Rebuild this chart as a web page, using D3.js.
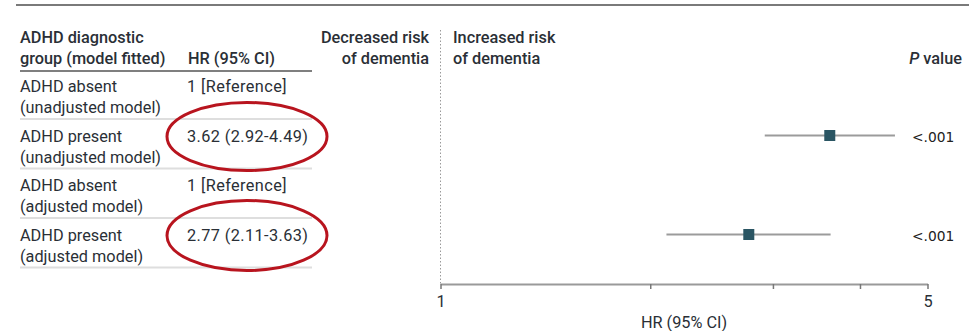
<!DOCTYPE html>
<html><head><meta charset="utf-8">
<script src="https://cdn.jsdelivr.net/npm/d3@7"></script>
<style>
body{margin:0;background:#fff;}
svg{display:block;font-family:Roboto, "Noto Sans", sans-serif;}
</style></head><body>
<svg id="c" width="969" height="331"></svg>
<script>
const groupLine1 = ["ADHD absent","ADHD present","ADHD absent","ADHD present"];
const groupLine2 = ["(unadjusted model)","(unadjusted model)","(adjusted model)","(adjusted model)"];
const hrLabels = ["1 [Reference]","3.62 (2.92-4.49)","1 [Reference]","2.77 (2.11-3.63)"];
const hr = [null,3.62,null,2.77];
const ciLow = [null,2.92,null,2.11];
const ciHigh = [null,4.49,null,3.63];
const pValues = ["","<.001","","<.001"];
const tickValues = [1,2,3,4,5];
const tickLabels = ["1","","","","5"];
const circled = [1,3];

const svg = d3.select("#c");
const txt = "#2a2f36";
const W = 969;
const fs = 16.3;

// top rule
svg.append("line").attr("x1",16).attr("x2",W).attr("y1",5).attr("y2",5)
  .attr("stroke","#7a7a7a").attr("stroke-width",2);

// headers
const hdr = svg.append("g").attr("fill",txt).attr("font-size",fs).attr("font-weight",500);
hdr.append("text").attr("x",20).attr("y",43).text("ADHD diagnostic");
hdr.append("text").attr("x",20).attr("y",64).text("group (model fitted)");
hdr.append("text").attr("x",188).attr("y",64).text("HR (95% CI)");
hdr.append("text").attr("x",429).attr("y",43).attr("text-anchor","end").text("Decreased risk");
hdr.append("text").attr("x",429).attr("y",64).attr("text-anchor","end").text("of dementia");
hdr.append("text").attr("x",453).attr("y",43).text("Increased risk");
hdr.append("text").attr("x",453).attr("y",64).text("of dementia");
const pv = hdr.append("text").attr("x",962).attr("y",64).attr("text-anchor","end");
pv.append("tspan").attr("font-style","italic").text("P");
pv.append("tspan").text(" value");

// header underline
svg.append("line").attr("x1",20).attr("x2",312).attr("y1",71).attr("y2",71)
  .attr("stroke","#555").attr("stroke-width",1.5);

// rows
const rowY = d3.scaleLinear().domain([0,1]).range([96,145.5]);
const x = d3.scaleLog().domain([1,5]).range([440.5,927.5]);

const rows = svg.append("g").selectAll("g").data(groupLine1).join("g")
  .attr("transform",(d,i)=>`translate(0,${rowY(i)})`);
rows.append("text").attr("x",20).attr("y",-4).attr("fill",txt).attr("font-size",fs).text(d=>d);
rows.append("text").attr("x",20).attr("y",17).attr("fill",txt).attr("font-size",fs).text((d,i)=>groupLine2[i]);
rows.append("text").attr("x",187).attr("y",-4).attr("fill",txt).attr("font-size",fs)
  .attr("letter-spacing",0.4).text((d,i)=>hrLabels[i]);
rows.append("line").attr("x1",20).attr("x2",312).attr("y1",23).attr("y2",23)
  .attr("stroke","#dedede").attr("stroke-width",2);
rows.append("text").attr("x",912).attr("y",-4).attr("fill","#222").attr("font-size",13.8)
  .attr("font-family","'DejaVu Sans', sans-serif").text((d,i)=>pValues[i]);

// reference dotted line
svg.append("line").attr("x1",x(1)).attr("x2",x(1)).attr("y1",30).attr("y2",284)
  .attr("stroke","#9a9a9a").attr("stroke-width",1).attr("stroke-dasharray","1.5,2");

// CI and markers
const idx = d3.range(hr.length).filter(i=>hr[i]!=null);
svg.append("g").selectAll("line").data(idx).join("line")
  .attr("x1",i=>x(ciLow[i])).attr("x2",i=>x(ciHigh[i]))
  .attr("y1",i=>rowY(i)-10).attr("y2",i=>rowY(i)-10)
  .attr("stroke","#9b9b9b").attr("stroke-width",2);
svg.append("g").selectAll("rect").data(idx).join("rect")
  .attr("x",i=>x(hr[i])-5.5).attr("y",i=>rowY(i)-15.5).attr("width",11).attr("height",11)
  .attr("fill","#2a5563");

// axis
const ax = svg.append("g").attr("transform","translate(0,284)")
  .call(d3.axisBottom(x).tickValues(tickValues).tickFormat((d,i)=>tickLabels[i]).tickSizeInner(5).tickSizeOuter(0).tickPadding(6));
ax.select(".domain").attr("stroke","#9a9a9a").attr("stroke-width",2);
ax.selectAll(".tick line").attr("stroke","#777").attr("stroke-width",1.5);
ax.selectAll(".tick text").attr("font-size",fs).attr("fill",txt).attr("font-family","Roboto, sans-serif");
svg.append("text").attr("x",x(Math.sqrt(5))).attr("y",328).attr("text-anchor","middle")
  .attr("fill",txt).attr("font-size",fs).text("HR (95% CI)");

// annotation ellipses
svg.append("g").selectAll("ellipse").data(circled).join("ellipse")
  .attr("cx",247).attr("cy",i=>rowY(i)-9).attr("rx",80).attr("ry",i=>i===1?34:35)
  .attr("fill","none").attr("stroke","#b8141e").attr("stroke-width",3);
</script>
</body></html>
